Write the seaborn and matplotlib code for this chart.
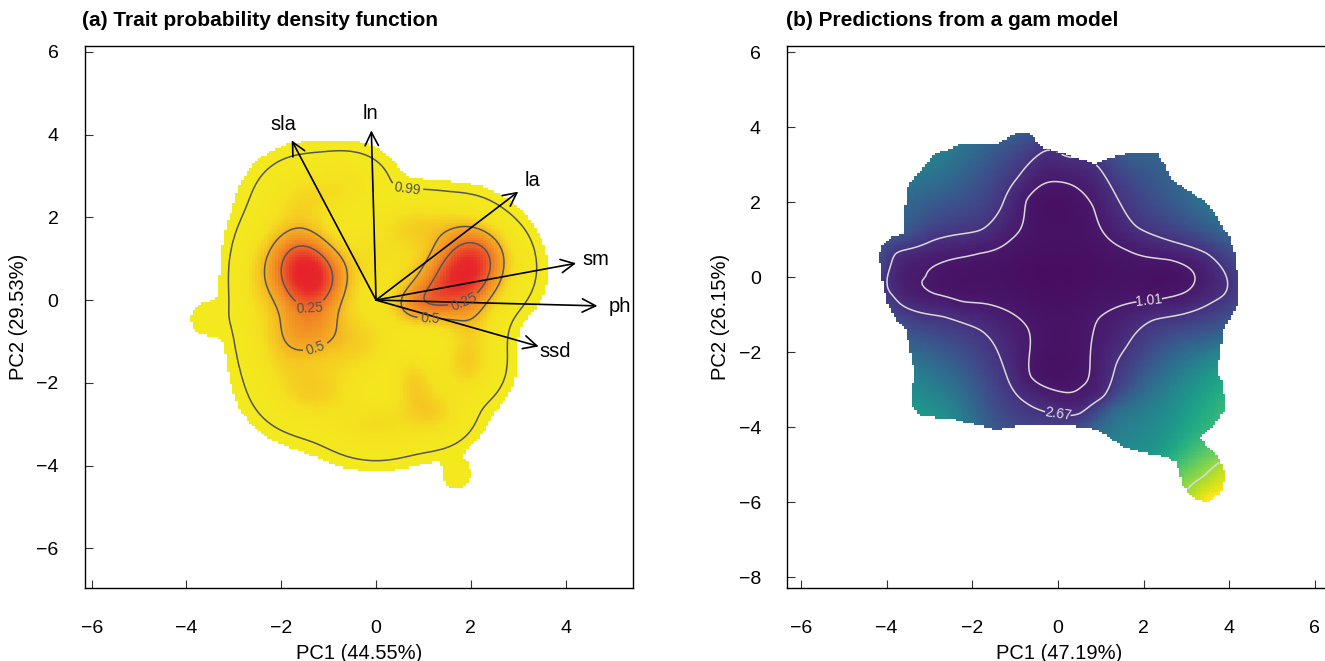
import numpy as np
import matplotlib
matplotlib.use("Agg")
import matplotlib.pyplot as plt
from matplotlib.colors import LinearSegmentedColormap
from matplotlib.path import Path
import seaborn as sns

# ---------------- panel (a): trait probability density ----------------
# PCA loadings (arrow tips); labels sit at 1.1 x the tip
load_names = ["sla", "ln", "la", "sm", "ph", "ssd"]
load_pc1 = [-1.78, -0.10, 3.00, 4.22, 4.67, 3.43]
load_pc2 = [3.86, 4.10, 2.62, 0.89, -0.14, -1.12]

# kernels of the trait density (centre, spread, weight)
kern_pc1 = [-1.35, -1.40, -1.55, 1.85, 1.20, 2.30, 0.80,
            -2.00, -1.50, -0.60, 0.90, 1.90, 2.00, 1.90, 1.20, 0.00, -1.30, -2.00,
            -3.50, 1.70, -0.40, 0.00, -2.55, 0.70]
kern_pc2 = [0.50, -0.70, 1.20, 0.65, 0.00, 1.20, -1.95,
            0.90, 2.45, 2.80, 1.80, 1.50, -0.40, -1.60, -2.70, -3.00, -2.20, -1.10,
            -0.45, -4.20, -1.00, 1.00, 0.30, -0.15]
kern_sd1 = [0.48, 0.45, 0.40, 0.55, 0.45, 0.40, 0.30,
            0.42, 0.50, 0.45, 0.55, 0.42, 0.35, 0.38, 0.42, 0.60, 0.55, 0.42,
            0.28, 0.20, 0.60, 0.60, 0.28, 0.30]
kern_sd2 = [0.55, 0.50, 0.50, 0.50, 0.40, 0.40, 0.45,
            0.70, 0.50, 0.40, 0.40, 0.45, 0.65, 0.45, 0.40, 0.42, 0.50, 0.70,
            0.28, 0.25, 0.60, 0.60, 0.80, 0.30]
kern_w = [0.13, 0.04, 0.03, 0.13, 0.05, 0.02, 0.016,
          0.04, 0.025, 0.013, 0.025, 0.025, 0.028, 0.02, 0.02, 0.025, 0.035, 0.03,
          0.0006, 0.0004, 0.045, 0.03, 0.012, 0.008]

tpd_probs = [0.99, 0.5, 0.25]
tpd_labels = ["0.99", "0.5", "0.25"]
tpd_label_pos = [(0.65, 2.66), (-1.25, -1.25), (1.14, -0.58), (-1.40, -0.10), (1.86, -0.05)]
tpd_edge_prob = 0.998

# ---------------- panel (b): gam predictions ----------------
# predicted trait values (PC1, PC2, value)
gam_pc1 = [
    # 1.01 isoline
    -3.09, -2.92, -2.40, -1.82, -1.10, -0.89, -0.73, -0.40, 0.00, 0.51, 0.82, 1.14,
    1.60, 2.62, 3.12, 3.20, 3.00, 2.19, 1.68, 0.95, 0.82, 0.75, 0.55, 0.06, -0.63,
    -0.70, -1.43, -2.21, -2.90,
    # 2.67 isoline
    -3.98, -3.78, -2.90, -1.81, -1.32, -0.93, -0.24, 0.90, 1.37, 1.84, 2.69, 3.47,
    3.86, 3.90, 3.63, 2.85, 2.23, 1.60, 1.37, 1.06, 0.51, 0.00, -0.42, -0.73, -1.22,
    -1.81, -2.68, -3.69, -3.95,
    # upper isoline near the tail
    2.99, 3.40, 3.78,
    # interior and edge colours
    0.00, 0.00, 1.80, -1.80, 0.00,
    -2.80, -3.45, -3.60, -4.15, -4.05, -3.60, -3.40, -3.30, -2.50, -1.80, -1.00,
    0.90, 1.29, 2.20, 2.85, 3.80, 3.94, 3.60, 3.50, 3.85, 2.95, 3.75,
    3.63, 3.85, 4.20, 4.10, 3.90, 3.40, 2.50, 1.60, 0.20, -0.80, -1.70,
]
gam_pc2 = [
    0.02, 0.28, 0.50, 0.64, 1.00, 1.26, 2.06, 2.45, 2.55, 2.33, 1.88, 1.08,
    0.73, 0.46, 0.19, -0.07, -0.38, -0.62, -0.69, -1.10, -1.49, -2.29, -2.92, -3.05, -2.65,
    -1.37, -0.78, -0.65, -0.43,
    0.02, 0.64, 0.99, 1.26, 1.88, 2.68, 3.39, 2.99, 2.15, 1.35, 0.95, 0.64,
    0.19, -0.43, -0.65, -1.00, -1.14, -1.85, -2.29, -3.18, -3.63, -3.66, -3.54, -3.36, -2.56,
    -1.41, -1.05, -0.70, -0.35,
    -5.72, -5.30, -4.94,
    -0.30, 1.20, -0.10, -0.05, -2.00,
    3.00, 2.00, 1.20, 0.40, -0.60, -1.50, -2.50, -3.40, -3.70, -3.90, -3.95,
    -4.00, -3.54, -4.60, -1.94, -2.30, -3.45, -4.70, -5.95, -5.50, -5.50, -4.75,
    -2.00, -1.40, -0.20, 0.60, 1.20, 2.00, 3.20, 3.25, 3.30, 3.80, 3.55,
]
gam_val = (
    [1.01] * 29
    + [2.67] * 29
    + [18.7] * 3
    + [0.30, 0.50, 0.55, 0.55, 0.55]
    + [8.5, 6.8, 5.5, 4.2, 4.0, 5.6, 8.9, 11.0, 10.0, 6.7, 4.5,
       6.7, 6.7, 11.1, 6.7, 11.1, 14.5, 16.8, 22.0, 21.0, 18.0, 17.3,
       8.9, 6.0, 3.5, 4.6, 6.7, 7.8, 6.7, 5.9, 2.9, 5.6, 6.7]
)
gam_levels = [1.01, 2.67, 18.7]
gam_label_pos = [(2.13, -0.60), (0.00, -3.63)]
gam_range = [-0.5, 22.0]

# outline of the trait space used for the predictions
edge_pc1 = [-0.98, -0.68, -0.39, 0.16, 0.85, 1.24, 1.64, 2.32, 2.52, 2.67, 3.01, 3.50,
            3.75, 4.00, 4.15, 4.21, 4.19, 3.85, 3.80, 3.70, 3.85, 3.92, 3.60, 3.31,
            3.50, 3.80, 3.92, 3.80, 3.50, 3.21, 2.92, 2.77, 2.52, 2.03, 1.53, 0.94,
            0.35, -0.43, -1.02, -1.42, -1.61, -2.40, -3.19, -3.41, -3.41, -3.34, -3.44,
            -3.54, -3.78, -3.98, -4.08, -4.18, -4.13, -3.93, -3.61, -3.59, -3.49, -3.19,
            -2.90, -2.31, -1.72, -1.42]
edge_pc2 = [3.86, 3.86, 3.48, 3.29, 3.02, 3.20, 3.29, 3.29, 2.95, 2.60, 2.33, 1.97,
            1.53, 1.08, 0.55, -0.16, -0.78, -1.41, -2.03, -2.47, -2.83, -3.54, -3.98, -4.25,
            -4.52, -4.87, -5.32, -5.76, -5.98, -5.94, -5.58, -4.96, -4.78, -4.69, -4.52, -4.07,
            -3.96, -3.94, -3.98, -4.07, -4.02, -3.80, -3.70, -3.45, -3.00, -2.56, -2.03,
            -1.41, -1.14, -0.69, -0.25, 0.55, 0.80, 1.04, 1.17, 1.71, 2.46, 2.86,
            3.26, 3.53, 3.53, 3.55]


def tps_fit(px, py, pv, smooth=1e-4):
    px, py, pv = map(np.asarray, (px, py, pv))
    n = len(px)
    d = np.hypot(px[:, None] - px[None, :], py[:, None] - py[None, :])
    with np.errstate(divide="ignore", invalid="ignore"):
        k = np.where(d > 0, d ** 2 * np.log(d), 0.0)
    p = np.column_stack([np.ones(n), px, py])
    a = np.zeros((n + 3, n + 3))
    a[:n, :n] = k + smooth * np.eye(n)
    a[:n, n:] = p
    a[n:, :n] = p.T
    sol = np.linalg.solve(a, np.concatenate([pv, np.zeros(3)]))
    return px, py, sol[:n], sol[n:]


def tps_predict(model, gx, gy):
    px, py, w, c = model
    out = c[0] + c[1] * gx + c[2] * gy
    for xi, yi, wi in zip(px, py, w):
        r = np.hypot(gx - xi, gy - yi)
        with np.errstate(divide="ignore", invalid="ignore"):
            out += wi * np.where(r > 0, r ** 2 * np.log(r), 0.0)
    return out


sns.set_style("white")
plt.rcParams["font.family"] = ["Liberation Sans", "DejaVu Sans"]
plt.rcParams["axes.unicode_minus"] = True
for key in ("text.color", "axes.labelcolor", "xtick.labelcolor", "ytick.labelcolor"):
    plt.rcParams[key] = "black"

fig = plt.figure(figsize=(13.25, 6.61), dpi=100)
ax_a = fig.add_axes([85 / 1325, 73.3 / 661, 548 / 1325, 541.7 / 661])
ax_b = fig.add_axes([787.3 / 1325, 73.3 / 661, 543 / 1325, 541.7 / 661])

# ---- panel (a)
step = 0.06
gx, gy = np.meshgrid(np.arange(-5.4, 4.8, step), np.arange(-5.6, 5.0, step))
dens = np.zeros_like(gx)
for mx, my, sx, sy, w in zip(kern_pc1, kern_pc2, kern_sd1, kern_sd2, kern_w):
    dens += w / (2 * np.pi * sx * sy) * np.exp(-0.5 * (((gx - mx) / sx) ** 2 + ((gy - my) / sy) ** 2))
dens /= dens.sum()
srt = np.sort(dens.ravel())[::-1]
cum = np.cumsum(srt)


def tpd_level(p):
    return srt[np.searchsorted(cum, p)]


edge = tpd_level(tpd_edge_prob)
heat = LinearSegmentedColormap.from_list(
    "tpd_heat",
    [(0.0, "#F3EA1E"), (0.15, "#F4E01F"), (0.25, "#F5C622"), (0.35, "#F4A823"),
     (0.5, "#F18A24"), (0.7, "#EC5527"), (0.88, "#E7282A"), (1.0, "#E6222A")])
shown = np.ma.masked_where(dens < edge, dens / dens.max())
ax_a.pcolormesh(gx, gy, shown, cmap=heat, vmin=0, vmax=1, shading="nearest", rasterized=True)
lv = sorted(tpd_level(p) for p in tpd_probs)
fmt = dict(zip(lv, tpd_labels))
cs = ax_a.contour(gx, gy, dens, levels=lv, colors="#555555", linewidths=1.1)
ax_a.clabel(cs, fmt=fmt, manual=tpd_label_pos, inline=True, fontsize=10, colors="#555555")

for name, x, y in zip(load_names, load_pc1, load_pc2):
    ax_a.annotate("", xy=(x, y), xytext=(0, 0),
                  arrowprops=dict(arrowstyle="->,head_length=0.6,head_width=0.3",
                                  lw=1.2, color="black", mutation_scale=16, shrinkA=0, shrinkB=0))
    ax_a.text(1.1 * x, 1.1 * y, name, ha="center", va="center", fontsize=14.5)

ax_a.set_xlim(-6.14, 5.42)
ax_a.set_ylim(-6.95, 6.14)
ax_a.set_xticks(range(-6, 5, 2))
ax_a.set_yticks(range(-6, 7, 2))
ax_a.set_xlabel("PC1 (44.55%)", fontsize=14.5, labelpad=5)
ax_a.set_ylabel("PC2 (29.53%)", fontsize=14.5, labelpad=6)

# ---- panel (b)
hx, hy = np.meshgrid(np.arange(-4.4, 4.4, step), np.arange(-6.2, 4.1, step))
model = tps_fit(gam_pc1, gam_pc2, gam_val)
pred = tps_predict(model, hx, hy)
inside = Path(np.column_stack([edge_pc1, edge_pc2])).contains_points(
    np.column_stack([hx.ravel(), hy.ravel()])).reshape(hx.shape)
pred_m = np.ma.masked_where(~inside, pred)
ax_b.pcolormesh(hx, hy, pred_m, cmap=sns.color_palette("viridis", as_cmap=True),
                vmin=gam_range[0], vmax=gam_range[1], shading="nearest", rasterized=True)
cs_b = ax_b.contour(hx, hy, pred_m, levels=gam_levels, colors="#D9D9D9", linewidths=1.1)
ax_b.clabel(cs_b, levels=gam_levels[:2], fmt={l: f"{l:.2f}" for l in gam_levels},
            manual=gam_label_pos, inline=True, fontsize=10, colors="#E0E0E0")

ax_b.set_xlim(-6.32, 6.36)
ax_b.set_ylim(-8.28, 6.17)
ax_b.set_xticks(range(-6, 7, 2))
ax_b.set_yticks(range(-8, 7, 2))
ax_b.set_xlabel("PC1 (47.19%)", fontsize=14.5, labelpad=5)
ax_b.set_ylabel("PC2 (26.15%)", fontsize=14.5, labelpad=6)

for ax in (ax_a, ax_b):
    for sp in ax.spines.values():
        sp.set_visible(True)
        sp.set_color("black")
        sp.set_linewidth(1.0)
    ax.tick_params(axis="both", direction="in", length=5.5, width=0.8, color="#333333",
                   labelcolor="black", labelsize=14, bottom=True, left=True)
    ax.tick_params(axis="x", pad=23)
    ax.tick_params(axis="y", pad=19)
    ax.grid(False)

fig.text(82 / 1325, 1 - 21 / 661, "(a) Trait probability density function",
         fontsize=15, fontweight="bold", va="center", ha="left", color="black")
fig.text(786 / 1325, 1 - 21 / 661, "(b) Predictions from a gam model",
         fontsize=15, fontweight="bold", va="center", ha="left", color="black")

fig.savefig("out.png", dpi=100)
